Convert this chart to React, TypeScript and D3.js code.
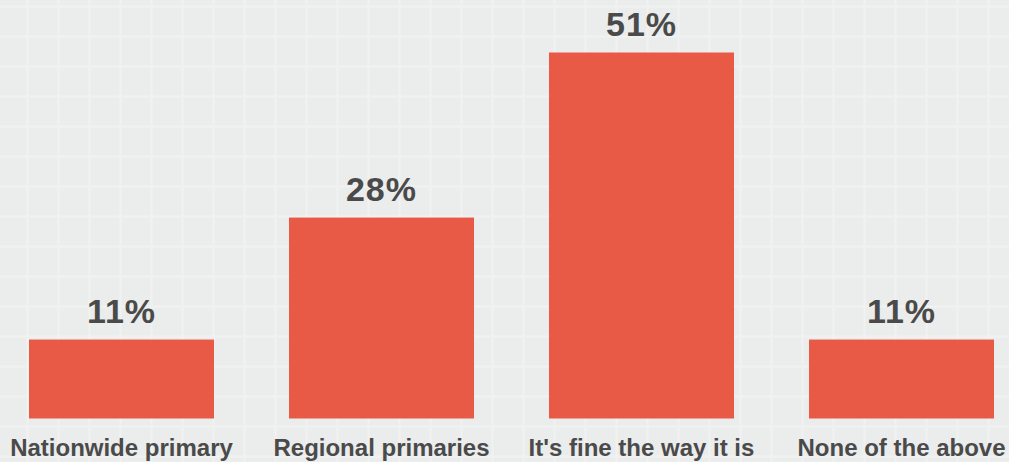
import React from "react";
import * as d3 from "d3";

const categories = ["Nationwide primary", "Regional primaries", "It's fine the way it is", "None of the above"];
const values = [11, 28, 51, 11];
const valueLabels = ["11%", "28%", "51%", "11%"];

const W = 1009;
const H = 462;

export default function App() {
  const x = d3.scaleBand<string>().domain(categories).range([29, 994]).paddingInner(0.2885).paddingOuter(0);
  const y = d3.scaleLinear().domain([0, 51]).range([418.5, 52.5]);
  const gridX = d3.range(-3.5, W, 31);
  const gridY = d3.range(6.5, H, 30);
  return (
    <svg width={W} height={H} style={{ position: "absolute", left: 0, top: 0, display: "block" }}>
      <rect x={0} y={0} width={W} height={H} fill="#ebecec" />
      <g stroke="#f5f5f5" strokeWidth={2} opacity={0.6}>
        {gridX.map((gx, i) => (
          <line key={"gx" + i} x1={gx} x2={gx} y1={0} y2={H} />
        ))}
        {gridY.map((gy, i) => (
          <line key={"gy" + i} x1={0} x2={W} y1={gy} y2={gy} />
        ))}
      </g>
      {categories.map((c, i) => {
        const bx = x(c)!;
        const bw = x.bandwidth();
        const top = y(values[i]);
        return (
          <g key={c}>
            <rect x={bx} y={top} width={bw} height={y(0) - top} fill="#e85a46" />
            <text
              x={bx + bw / 2}
              y={top - 17}
              textAnchor="middle"
              fontFamily="Liberation Sans, Arial, sans-serif"
              fontWeight="bold"
              fontSize={34}
              letterSpacing={1}
              fill="#4a4a4a"
            >
              {valueLabels[i]}
            </text>
            <text
              x={bx + bw / 2}
              y={456}
              textAnchor="middle"
              fontFamily="Liberation Sans, Arial, sans-serif"
              fontWeight="bold"
              fontSize={24}
              fill="#4a4a4a"
            >
              {c}
            </text>
          </g>
        );
      })}
    </svg>
  );
}
